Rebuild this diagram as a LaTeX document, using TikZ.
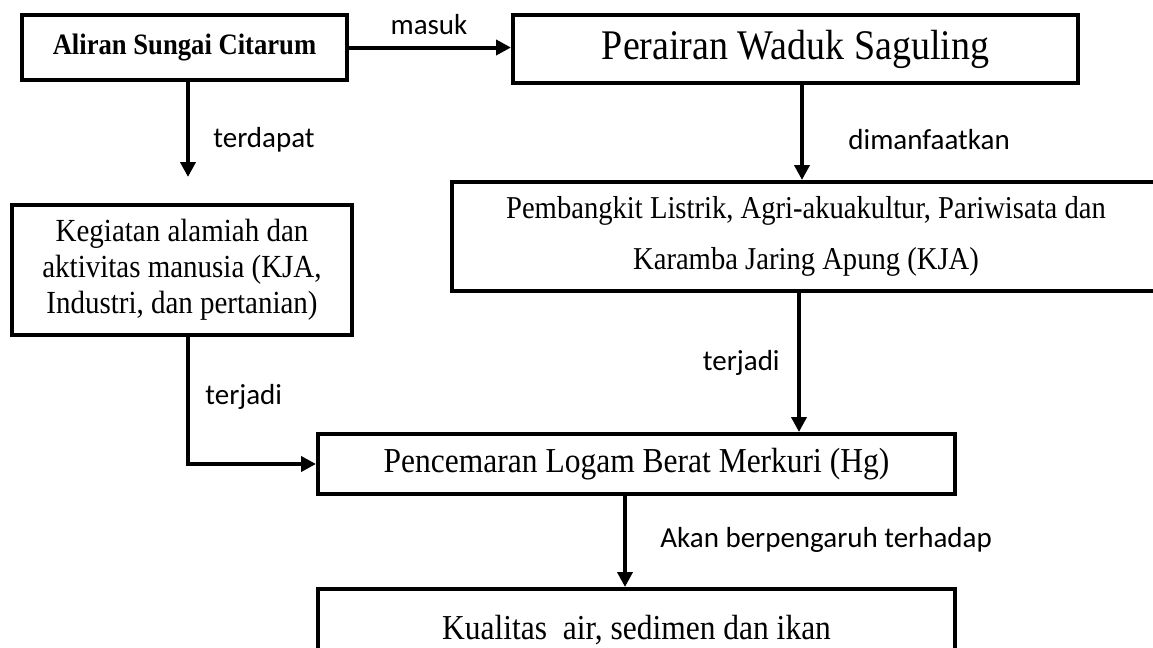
\documentclass[tikz,border=0pt]{standalone}
\usepackage{fontspec}
\setmainfont{Liberation Serif}[FakeStretch=0.9]
\newfontfamily\labelfont{Carlito}
\usetikzlibrary{positioning,arrows.meta,calc}

\begin{document}
\begin{tikzpicture}[
    x=0.5pt, y=-0.5pt,
    boxStyle/.style={rectangle, draw=black, line width=2pt, inner sep=2pt, align=center},
    labelStyle/.style={font=\labelfont\fontsize{14.5}{17}\selectfont, inner sep=0pt},
    arrowStyle/.style={-{Triangle[length=7.5pt, width=7.5pt]}, line width=2pt}
]
    \clip (0,0) rectangle (1153,648);

    % Top row
    \node[boxStyle, minimum width=162.5pt, minimum height=32.5pt, font=\bfseries\fontsize{14.8}{17}\selectfont] (aliran) at (184.5,47.5) {Aliran Sungai Citarum};
    \node[boxStyle, minimum width=282.5pt, minimum height=34pt, font=\fontsize{21.1}{24}\selectfont] (perairan) at (795.5,49) {Perairan Waduk Saguling};

    % Middle row
    \node[boxStyle, minimum width=170pt, minimum height=65pt, font=\fontsize{16.1}{18}\selectfont] (kegiatan) at (182,270) {
        Kegiatan alamiah dan\\ aktivitas manusia (KJA,\\ Industri, dan pertanian)
    };
    \node[boxStyle, minimum width=354pt, minimum height=54.5pt, font=\fontsize{15.9}{25.5}\selectfont] (pembangkit) at (806,236.5) {
        Pembangkit Listrik, Agri-akuakultur, Pariwisata dan\\ Karamba Jaring Apung (KJA)
    };

    % Bottom row
    \node[boxStyle, minimum width=318.5pt, minimum height=30pt, font=\fontsize{17.5}{20}\selectfont] (pencemaran) at (636.5,464) {Pencemaran Logam Berat Merkuri (Hg)};
    \node[boxStyle, minimum width=318.5pt, minimum height=41pt, font=\fontsize{17.5}{20}\selectfont] (kualitas) at (636.5,630) {Kualitas\ \ air, sedimen dan ikan};

    % Arrows
    \draw[arrowStyle] (aliran.east) -- (aliran.east -| perairan.west);
    \coordinate (terdapatEnd) at (188,177);
    \draw[arrowStyle] (aliran.south -| terdapatEnd) -- (terdapatEnd);
    \draw[arrowStyle] ([xshift=-2pt]pembangkit.north |- perairan.south) -- ([xshift=-2pt]pembangkit.north);
    \draw[arrowStyle] ([xshift=-3.5pt]pembangkit.south) -- ([xshift=-3.5pt]pembangkit.south |- pencemaran.north);
    \draw[arrowStyle] ([xshift=3pt]kegiatan.south) |- (pencemaran.west);
    \draw[arrowStyle] ([xshift=-5.75pt]pencemaran.south) -- ([xshift=-5.75pt]pencemaran.south |- kualitas.north);

    % Labels
    \node[labelStyle] (lblMasuk) at (429,25) {masuk};
    \node[labelStyle, anchor=west] (lblTerdapat) at (213,140) {terdapat};
    \node[labelStyle, anchor=west] (lblManfaat) at (848,140) {dimanfaatkan};
    \node[labelStyle, anchor=east] (lblTerjadiKanan) at (780,363) {terjadi};
    \node[labelStyle, anchor=west] (lblTerjadiKiri) at (205,397) {terjadi};
    \node[labelStyle, anchor=west] (lblPengaruh) at (660,540) {Akan berpengaruh terhadap};
\end{tikzpicture}
\end{document}
